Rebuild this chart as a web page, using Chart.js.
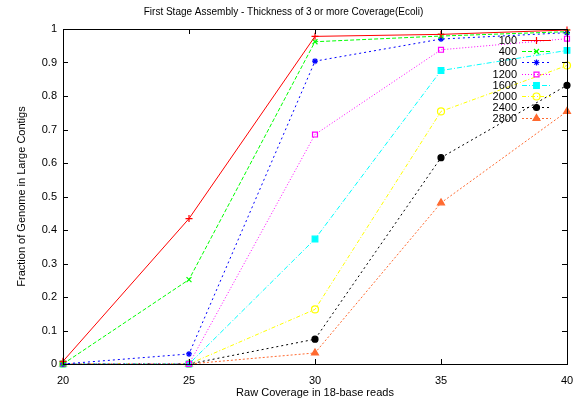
<!DOCTYPE html>
<html>
<head>
<meta charset="utf-8">
<script src="https://cdn.jsdelivr.net/npm/chart.js@4.4.1/dist/chart.umd.min.js"></script>
<style>
  html, body { margin: 0; padding: 0; background: #fff; }
  #wrap { width: 577px; height: 400px; }
</style>
</head>
<body>
<div id="wrap"><canvas id="chart" width="577" height="400"></canvas></div>
<script>
// ---------- datos ----------
const coverage = [20, 25, 30, 35, 40];
const xTicks = [20, 25, 30, 35, 40];
const yTicks = [0, 0.1, 0.2, 0.3, 0.4, 0.5, 0.6, 0.7, 0.8, 0.9, 1];

const labels = ['100', '400', '800', '1200', '1600', '2000', '2400', '2800'];
const s100  = [0.008, 0.434, 0.978, 0.984, 0.997];
const s400  = [0.000, 0.252, 0.962, 0.979, 0.992];
const s800  = [0.000, 0.030, 0.904, 0.970, 0.989];
const s1200 = [0.000, 0.000, 0.685, 0.938, 0.971];
const s1600 = [0.000, 0.000, 0.373, 0.876, 0.936];
const s2000 = [0.000, 0.000, 0.163, 0.754, 0.891];
const s2400 = [0.000, 0.000, 0.074, 0.616, 0.832];
const s2800 = [0.000, 0.000, 0.033, 0.481, 0.754];
const series = [s100, s400, s800, s1200, s1600, s2000, s2400, s2800];

// ---------- estilos ----------
const colors = ['#ff0000', '#00ff00', '#0000ff', '#ff00ff', '#00ffff', '#ffff00', '#000000', '#ff6a30'];
const dashes = [[], [4, 2], [2, 3], [1, 2], [5, 2, 1, 2], [4, 2, 1, 2], [2, 3], [2, 2]];
const styles = ['cross', 'crossRot', 'star', 'rect', 'rect', 'circle', 'circle', 'triangle'];
const filled = [false, false, false, false, true, false, true, true];
const radii  = [3.5, 3.5, 3, 3.5, 4, 3.5, 3, 4];

const FONT = '"Liberation Sans", Arial, Helvetica, sans-serif';

const datasets = series.map((s, i) => ({
  label: labels[i],
  data: s.map((v, j) => ({ x: coverage[j], y: v })),
  borderColor: colors[i],
  backgroundColor: filled[i] ? colors[i] : 'rgba(0,0,0,0)',
  borderWidth: 1,
  borderDash: dashes[i],
  pointStyle: styles[i],
  pointRadius: radii[i],
  pointBorderWidth: 1.2,
  pointBorderColor: colors[i],
  pointBackgroundColor: filled[i] ? colors[i] : 'rgba(0,0,0,0)',
  tension: 0,
  clip: false
}));

// marco + ticks hacia dentro, estilo gnuplot
const framePlugin = {
  id: 'frame',
  afterDatasetsDraw(chart) {
    const { ctx, chartArea: a, scales: { x, y } } = chart;
    ctx.save();
    ctx.strokeStyle = '#000';
    ctx.lineWidth = 1;
    ctx.setLineDash([]);
    ctx.beginPath();
    xTicks.forEach(v => {
      const px = Math.round(x.getPixelForValue(v)) + 0.5;
      ctx.moveTo(px, a.bottom); ctx.lineTo(px, a.bottom - 5);
      ctx.moveTo(px, a.top); ctx.lineTo(px, a.top + 5);
    });
    yTicks.forEach(v => {
      const py = Math.round(y.getPixelForValue(v)) + 0.5;
      ctx.moveTo(a.left, py); ctx.lineTo(a.left + 5, py);
      ctx.moveTo(a.right, py); ctx.lineTo(a.right - 5, py);
    });
    ctx.stroke();
    ctx.strokeRect(Math.round(a.left) + 0.5, Math.round(a.top) + 0.5,
      Math.round(a.right - a.left), Math.round(a.bottom - a.top));
    ctx.restore();
  }
};

// leyenda: texto a la derecha alineado, muestra de línea a la derecha
const keyPlugin = {
  id: 'key',
  afterDraw(chart) {
    const { ctx } = chart;
    const textRight = 517, x0 = 522, x1 = 551, top = 40, step = 11.2;
    ctx.save();
    ctx.font = '11px ' + FONT;
    ctx.textAlign = 'right';
    ctx.textBaseline = 'middle';
    chart.data.datasets.forEach((ds, i) => {
      const yy = Math.round(top + i * step) + 0.5;
      ctx.fillStyle = '#000';
      ctx.fillText(ds.label, textRight, yy);
      ctx.strokeStyle = ds.borderColor;
      ctx.lineWidth = 1;
      ctx.setLineDash(ds.borderDash);
      ctx.beginPath();
      ctx.moveTo(x0, yy); ctx.lineTo(x1, yy);
      ctx.stroke();
      ctx.setLineDash([]);
      ctx.lineWidth = 1.2;
      ctx.fillStyle = ds.pointBackgroundColor;
      Chart.helpers.drawPoint(ctx, {
        pointStyle: ds.pointStyle, radius: ds.pointRadius, borderWidth: 1.2, rotation: 0
      }, (x0 + x1) / 2, yy);
    });
    ctx.restore();
  }
};

new Chart(document.getElementById('chart'), {
  type: 'line',
  data: { datasets },
  options: {
    responsive: false,
    animation: false,
    layout: { padding: { left: 0, right: 10, top: 0, bottom: 0 } },
    plugins: {
      legend: { display: false },
      tooltip: { enabled: false },
      title: {
        display: true,
        text: 'First Stage Assembly - Thickness of 3 or more Coverage(Ecoli)',
        color: '#000',
        font: { family: FONT, size: 10, weight: 'normal' },
        padding: { top: 6, bottom: 11 }
      }
    },
    scales: {
      x: {
        type: 'linear',
        min: 20, max: 40,
        grid: { display: false, drawTicks: false },
        border: { display: false },
        afterBuildTicks: s => { s.ticks = xTicks.map(v => ({ value: v })); },
        afterFit: s => { s.height = 36; s.paddingLeft = 0; s.paddingRight = 0; },
        ticks: { color: '#000', font: { family: FONT, size: 11 }, padding: 10, maxRotation: 0 },
        title: {
          display: true, text: 'Raw Coverage in 18-base reads', color: '#000',
          font: { family: FONT, size: 11 }, padding: { top: 0, bottom: 0 }
        }
      },
      y: {
        type: 'linear',
        min: 0, max: 1,
        grid: { display: false, drawTicks: false },
        border: { display: false },
        afterBuildTicks: s => { s.ticks = yTicks.map(v => ({ value: v })); },
        afterFit: s => { s.width = 63; },
        ticks: { color: '#000', font: { family: FONT, size: 11 }, padding: 6, callback: v => String(v) },
        title: {
          display: true, text: 'Fraction of Genome in Large Contigs', color: '#000',
          font: { family: FONT, size: 11 }, padding: { top: 15, bottom: 0 }
        }
      }
    }
  },
  plugins: [framePlugin, keyPlugin]
});
</script>
</body>
</html>
